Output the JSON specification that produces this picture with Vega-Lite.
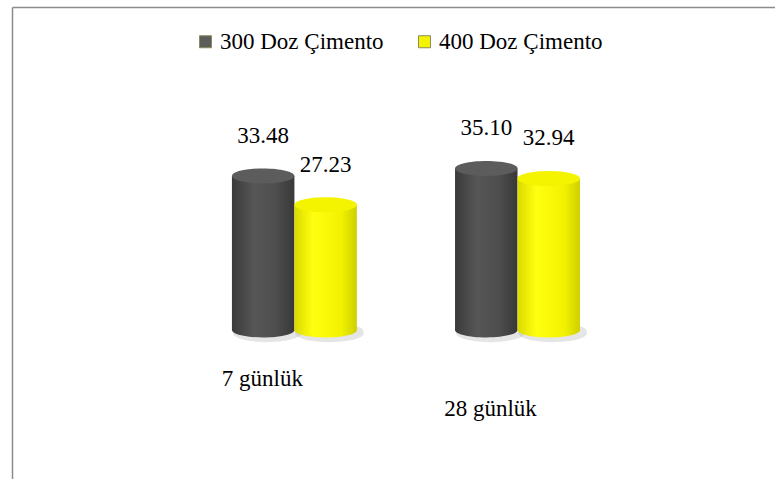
{
  "$schema": "https://vega.github.io/schema/vega-lite/v6.json",
  "width": 763,
  "height": 472,
  "autosize": {"type": "none"},
  "padding": {"left": 12, "top": 7, "right": 0, "bottom": 0},
  "background": "white",
  "config": {"view": {"stroke": null}, "font": "Liberation Serif"},
  "data": {
    "values": [
      {"gun": "7 günlük", "doz": "300 Doz Çimento", "val": 33.48},
      {"gun": "7 günlük", "doz": "400 Doz Çimento", "val": 27.23},
      {"gun": "28 günlük", "doz": "300 Doz Çimento", "val": 35.10},
      {"gun": "28 günlük", "doz": "400 Doz Çimento", "val": 32.94}
    ]
  },
  "encoding": {
    "x": {
      "field": "gun",
      "type": "nominal",
      "sort": ["7 günlük", "28 günlük"],
      "scale": {"paddingInner": 0.44, "paddingOuter": 0.93, "align": 0.53},
      "axis": {
        "orient": "bottom",
        "offset": -149,
        "title": null,
        "domain": false,
        "ticks": false,
        "labelAngle": 0,
        "labelFont": "Liberation Serif",
        "labelFontSize": 23,
        "labelColor": "#000000",
        "labelBaseline": "top",
        "labelOffset": {"condition": {"test": "datum.value === '7 günlük'", "value": -32}, "value": -27},
        "labelPadding": {"condition": {"test": "datum.value === '7 günlük'", "value": 37}, "value": 67}
      }
    },
    "xOffset": {
      "field": "doz",
      "type": "nominal",
      "sort": ["300 Doz Çimento", "400 Doz Çimento"],
      "scale": {"paddingInner": 0, "paddingOuter": 0}
    },
    "y": {
      "field": "val",
      "type": "quantitative",
      "scale": {"domain": [-32.4, 70.2], "nice": false},
      "axis": {
        "orient": "left",
        "title": null,
        "labels": false,
        "ticks": false,
        "domain": true,
        "domainColor": "#8c8c8c",
        "domainWidth": 1.5,
        "grid": true,
        "values": [70.2],
        "gridColor": "#8c8c8c",
        "gridWidth": 1.5
      }
    }
  },
  "layer": [
    {
      "mark": {
        "type": "point",
        "filled": true,
        "opacity": 0.3,
        "color": "#a8a8a8",
        "strokeWidth": 0,
        "size": 4000,
        "shape": "M-0.95,0.08A1.08,0.28,0,1,0,1.2,0.08A1.08,0.28,0,1,0,-0.95,0.08Z"
      },
      "encoding": {"y": {"datum": 0}}
    },
    {
      "transform": [{"filter": "datum.doz === '300 Doz Çimento'"}],
      "layer": [
        {
          "mark": {
            "type": "point",
            "filled": true,
            "opacity": 1,
            "strokeWidth": 0,
            "size": 3906,
            "shape": "M-1,0A1,0.24,0,1,0,1,0A1,0.24,0,1,0,-1,0Z",
            "color": {"gradient": "linear", "x1": 0, "y1": 0, "x2": 1, "y2": 0,
              "stops": [{"offset": 0, "color": "#3a3a3a"}, {"offset": 0.35, "color": "#565656"}, {"offset": 0.7, "color": "#4e4e4e"}, {"offset": 1, "color": "#383838"}]}
          },
          "encoding": {"y": {"datum": 0}}
        },
        {
          "mark": {
            "type": "bar",
            "color": {"gradient": "linear", "x1": 0, "y1": 0, "x2": 1, "y2": 0,
              "stops": [{"offset": 0, "color": "#3a3a3a"}, {"offset": 0.35, "color": "#565656"}, {"offset": 0.7, "color": "#4e4e4e"}, {"offset": 1, "color": "#383838"}]}
          }
        },
        {
          "mark": {
            "type": "point",
            "filled": true,
            "opacity": 1,
            "strokeWidth": 0,
            "size": 3906,
            "shape": "M-1,0A1,0.24,0,1,0,1,0A1,0.24,0,1,0,-1,0Z"
          },
          "encoding": {
            "color": {
              "field": "doz",
              "type": "nominal",
              "scale": {"domain": ["300 Doz Çimento", "400 Doz Çimento"], "range": ["#5c5c5c", "#f4f400"]},
              "legend": {
                "title": null,
                "orient": "none",
                "direction": "horizontal",
                "legendX": 182,
                "legendY": 23,
                "symbolType": "square",
                "symbolSize": 144,
                "symbolStrokeColor": "#8a8a5a",
                "symbolStrokeWidth": 1,
                "symbolOpacity": 1,
                "labelFont": "Liberation Serif",
                "labelFontSize": 23,
                "labelColor": "#000000",
                "labelLimit": 400,
                "labelOffset": 3,
                "columnPadding": 29
              }
            }
          }
        }
      ]
    },
    {
      "transform": [{"filter": "datum.doz === '400 Doz Çimento'"}],
      "layer": [
        {
          "mark": {
            "type": "point",
            "filled": true,
            "opacity": 1,
            "strokeWidth": 0,
            "size": 3906,
            "shape": "M-1,0A1,0.24,0,1,0,1,0A1,0.24,0,1,0,-1,0Z",
            "color": {"gradient": "linear", "x1": 0, "y1": 0, "x2": 1, "y2": 0,
              "stops": [{"offset": 0, "color": "#dada00"}, {"offset": 0.3, "color": "#ffff10"}, {"offset": 0.75, "color": "#f2f200"}, {"offset": 1, "color": "#cfcf00"}]}
          },
          "encoding": {"y": {"datum": 0}}
        },
        {
          "mark": {
            "type": "bar",
            "color": {"gradient": "linear", "x1": 0, "y1": 0, "x2": 1, "y2": 0,
              "stops": [{"offset": 0, "color": "#dada00"}, {"offset": 0.3, "color": "#ffff10"}, {"offset": 0.75, "color": "#f2f200"}, {"offset": 1, "color": "#cfcf00"}]}
          }
        },
        {
          "mark": {
            "type": "point",
            "filled": true,
            "opacity": 1,
            "strokeWidth": 0,
            "size": 3906,
            "shape": "M-1,0A1,0.24,0,1,0,1,0A1,0.24,0,1,0,-1,0Z"
          },
          "encoding": {
            "color": {
              "field": "doz",
              "type": "nominal",
              "scale": {"domain": ["300 Doz Çimento", "400 Doz Çimento"], "range": ["#5c5c5c", "#f4f400"]}
            }
          }
        }
      ]
    },
    {
      "mark": {
        "type": "text",
        "font": "Liberation Serif",
        "fontSize": 23,
        "color": "#000000",
        "align": "center",
        "baseline": "alphabetic",
        "dy": -33
      },
      "encoding": {"text": {"field": "val", "type": "quantitative", "format": ".2f"}}
    }
  ]
}
